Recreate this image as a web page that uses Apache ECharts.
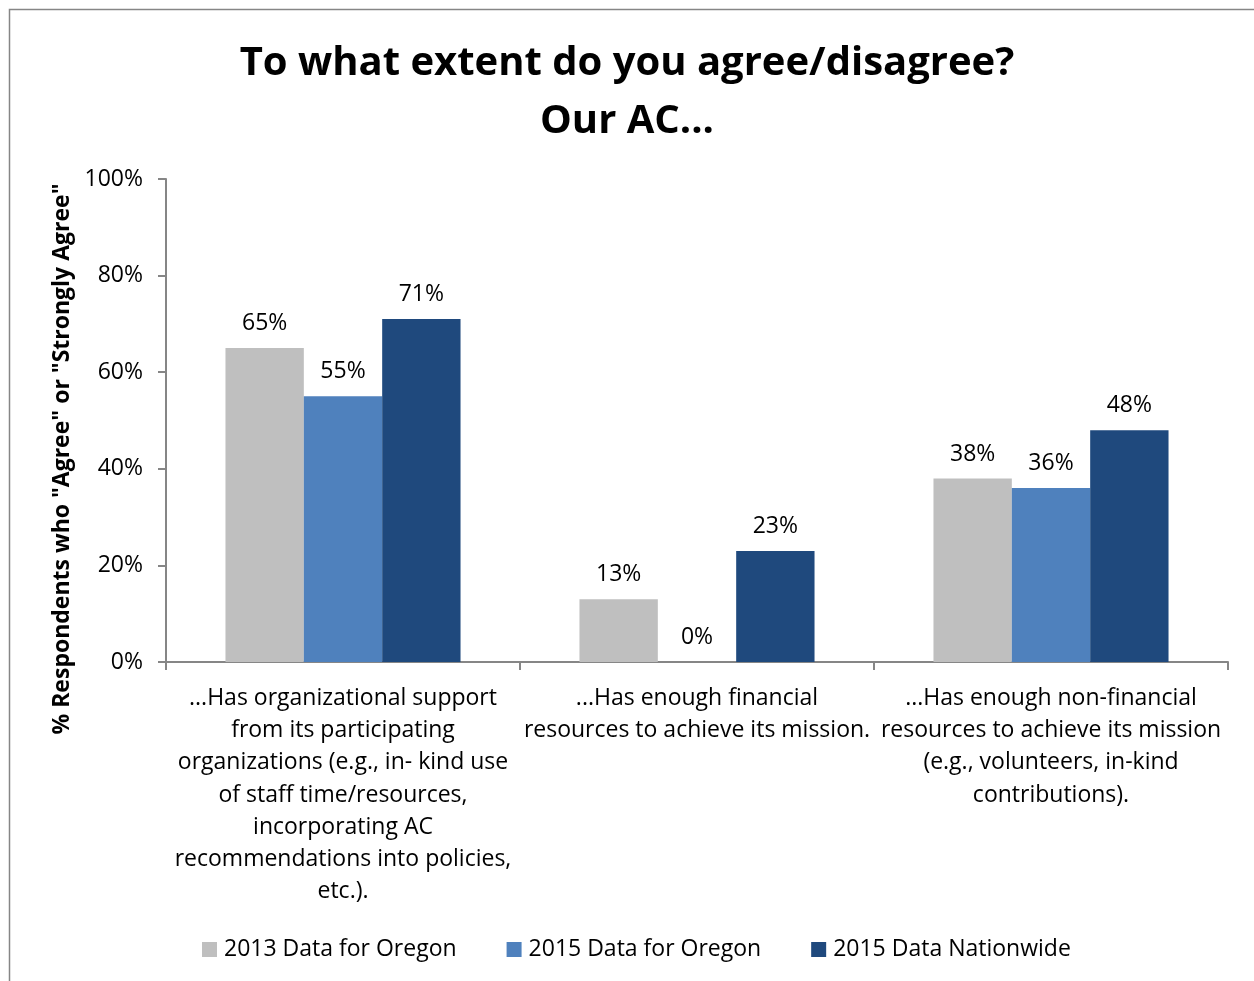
<!DOCTYPE html>
<html>
<head>
<meta charset="utf-8">
<script src="https://cdn.jsdelivr.net/npm/echarts@6/dist/echarts.min.js"></script>
<style>
  html, body { margin: 0; padding: 0; background: #fff; }
  #chart { width: 1254px; height: 981px; }
</style>
</head>
<body>
<div id="chart"></div>
<script>
var categories = [
  '...Has organizational support\nfrom its participating\norganizations (e.g., in- kind use\nof staff time/resources,\nincorporating AC\nrecommendations into policies,\netc.).',
  '...Has enough financial\nresources to achieve its mission.',
  '...Has enough non-financial\nresources to achieve its mission\n(e.g., volunteers, in-kind\ncontributions).'
];
var seriesNames = ['2013 Data for Oregon', '2015 Data for Oregon', '2015 Data Nationwide'];
var oregon2013 = [65, 13, 38];
var oregon2015 = [55, 0, 36];
var nationwide2015 = [71, 23, 48];
var colors = ['#BFBFBF', '#4F81BD', '#1F497D'];
var yTitle = '% Respondents who "Agree" or "Strongly Agree"';

var font = '"Open Sans", sans-serif';
var chart = echarts.init(document.getElementById('chart'));

function makeSeries(name, data, color) {
  return {
    name: name,
    type: 'bar',
    data: data,
    barGap: '0%',
    barCategoryGap: '33.6%',
    itemStyle: { color: color },
    label: {
      show: true,
      position: 'top',
      distance: 13,
      formatter: '{c}%',
      color: '#000',
      fontFamily: font,
      fontSize: 23
    }
  };
}

var option = {
  animation: false,
  textStyle: { fontFamily: font },
  title: {
    text: 'To what extent do you agree/disagree?\nOur AC...',
    left: 'center',
    top: 30,
    textStyle: { fontFamily: font, fontSize: 40, fontWeight: 'bold', color: '#000', lineHeight: 58 }
  },
  legend: {
    top: 933,
    left: 197,
    itemWidth: 15,
    itemHeight: 15,
    itemGap: 50,
    icon: 'rect',
    textStyle: { fontFamily: font, fontSize: 23, color: '#000', padding: [0, 0, 0, 2] },
    data: seriesNames
  },
  grid: { left: 166, right: 26, top: 179, bottom: 319, containLabel: false },
  xAxis: {
    type: 'category',
    data: categories,
    axisLine: { lineStyle: { color: '#868686', width: 2 } },
    axisTick: { show: true, length: 8, lineStyle: { color: '#868686', width: 2 } },
    axisLabel: {
      interval: 0,
      margin: 20,
      color: '#000',
      fontFamily: font,
      fontSize: 23,
      lineHeight: 32.3
    }
  },
  yAxis: {
    type: 'value',
    min: 0,
    max: 100,
    interval: 20,
    axisLine: { show: true, lineStyle: { color: '#868686', width: 2 } },
    axisTick: { show: true, length: 8, lineStyle: { color: '#868686', width: 2 } },
    splitLine: { show: false },
    axisLabel: {
      margin: 23,
      color: '#000',
      fontFamily: font,
      fontSize: 23,
      formatter: '{value}%'
    }
  },
  graphic: [{
    type: 'rect',
    shape: { x: 9.5, y: 9.5, width: 1260, height: 990 },
    style: { fill: null, stroke: '#868686', lineWidth: 1.5 },
    silent: true
  }, {
    type: 'text',
    x: 62,
    y: 459,
    rotation: Math.PI / 2,
    style: {
      text: yTitle,
      fontFamily: font,
      fontSize: 23,
      fontWeight: 'bold',
      fill: '#000',
      align: 'center',
      verticalAlign: 'middle'
    },
    silent: true
  }],
  series: [
    makeSeries(seriesNames[0], oregon2013, colors[0]),
    makeSeries(seriesNames[1], oregon2015, colors[1]),
    makeSeries(seriesNames[2], nationwide2015, colors[2])
  ]
};
chart.setOption(option);
</script>
</body>
</html>
